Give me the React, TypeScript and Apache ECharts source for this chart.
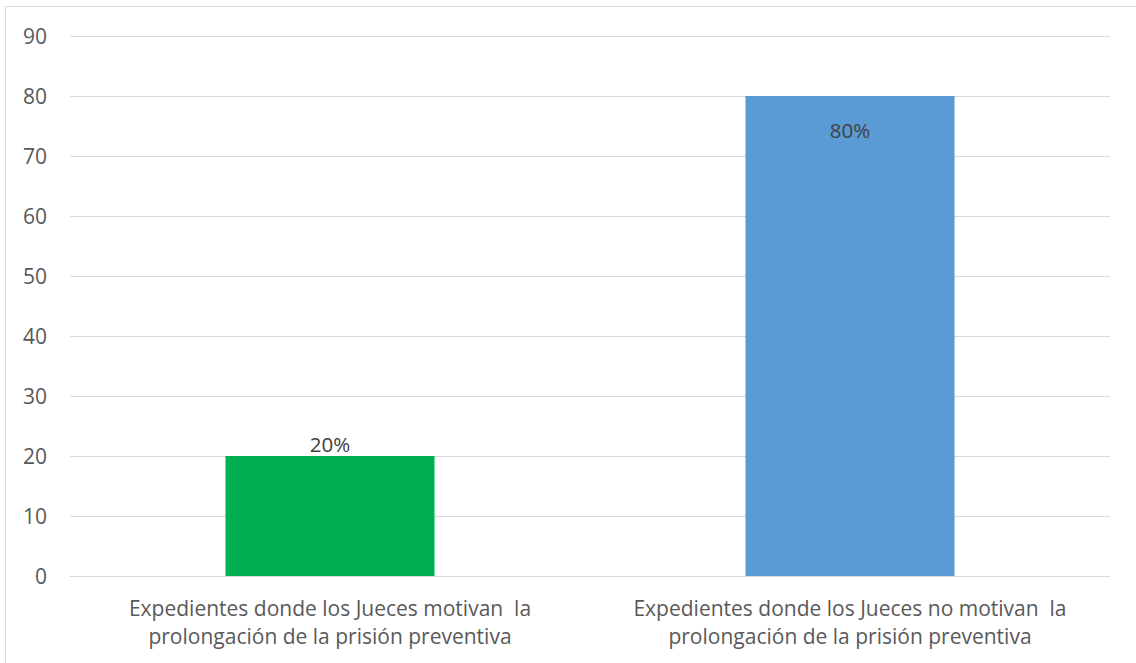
import React, { useEffect, useRef } from "react";
import * as echarts from "echarts";

const categories = [
  "Expedientes donde los Jueces motivan  la\nprolongación de la prisión preventiva",
  "Expedientes donde los Jueces no motivan  la\nprolongación de la prisión preventiva",
];
const values = [20, 80];
const valueLabels = ["20%", "80%"];
const barColors = ["#00b050", "#5b9bd5"];
const labelPositions = ["top", "insideTop"];

export default function App() {
  const ref = useRef<HTMLDivElement>(null);
  useEffect(() => {
    if (!ref.current) return;
    const chart = echarts.init(ref.current, null, { renderer: "svg" });
    const font = "'Open Sans', sans-serif";
    chart.setOption({
      animation: false,
      backgroundColor: "#ffffff",
      graphic: [
        {
          type: "rect",
          shape: { x: 5.5, y: 6.5, width: 1200, height: 700 },
          style: { fill: "none", stroke: "#d9d9d9", lineWidth: 1 },
          silent: true,
        },
      ],
      grid: { left: 70, right: 26, top: 36, bottom: 87 },
      xAxis: {
        type: "category",
        data: categories,
        axisLine: { show: true, lineStyle: { color: "#d9d9d9", width: 1 } },
        axisTick: { show: false },
        axisLabel: {
          color: "#595959",
          fontSize: 21,
          fontFamily: font,
          lineHeight: 28,
          margin: 18,
          interval: 0,
        },
      },
      yAxis: {
        type: "value",
        min: 0,
        max: 90,
        interval: 10,
        axisLine: { show: false },
        axisTick: { show: false },
        splitLine: { lineStyle: { color: "#d9d9d9", width: 1 } },
        axisLabel: {
          color: "#595959",
          fontSize: 21,
          fontFamily: font,
          margin: 23,
        },
      },
      series: [
        {
          type: "bar",
          barWidth: 209,
          data: values.map((v, i) => ({
            value: v,
            itemStyle: { color: barColors[i] },
            label: {
              show: true,
              position: labelPositions[i],
              distance: i === 0 ? 2 : 23,
              formatter: valueLabels[i],
              color: "#404040",
              fontSize: 20.5,
              fontFamily: font,
            },
          })),
        },
      ],
    });
    return () => chart.dispose();
  }, []);
  return (
    <div
      ref={ref}
      style={{ position: "fixed", left: 0, top: 0, width: 1136, height: 663 }}
    />
  );
}
